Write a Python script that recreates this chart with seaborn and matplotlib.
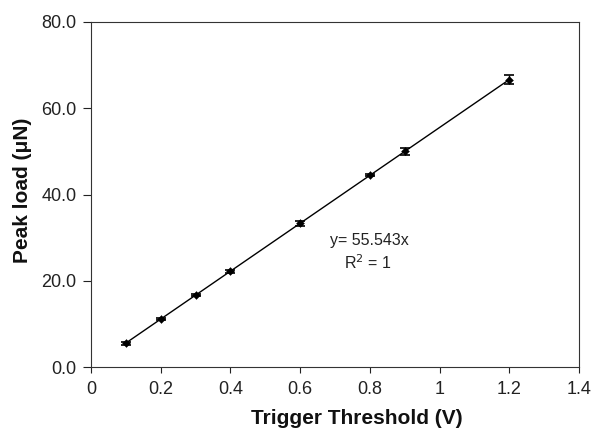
import matplotlib
matplotlib.use("Agg")
import matplotlib.pyplot as plt
import seaborn as sns
import numpy as np
import pandas as pd

# Data
trigger_v = [0.1, 0.2, 0.3, 0.4, 0.6, 0.8, 0.9, 1.2]
peak_load = [5.5, 11.1, 16.7, 22.2, 33.3, 44.5, 50.0, 66.6]
load_err = [0.3, 0.3, 0.3, 0.3, 0.5, 0.3, 0.8, 1.0]
slope = 55.543
x_ticks = [0, 0.2, 0.4, 0.6, 0.8, 1, 1.2, 1.4]
x_ticklabels = ["0", "0.2", "0.4", "0.6", "0.8", "1", "1.2", "1.4"]
y_ticks = [0, 20, 40, 60, 80]
y_ticklabels = ["0.0", "20.0", "40.0", "60.0", "80.0"]

sns.set_style("ticks")
plt.rcParams['font.family'] = ['Liberation Sans', 'DejaVu Sans']

fig = plt.figure(figsize=(5.96, 4.28), dpi=100)
ax = fig.add_axes([0.1527, 0.1425, 0.8188, 0.8061])

df = pd.DataFrame({"x": trigger_v, "y": peak_load})
fit_x = [min(trigger_v), max(trigger_v)]
fit_df = pd.DataFrame({"x": fit_x, "y": [slope * v for v in fit_x]})

sns.lineplot(data=fit_df, x="x", y="y", ax=ax, color="black", linewidth=1.0)
ax.errorbar(trigger_v, peak_load, yerr=load_err, fmt="none", ecolor="black",
            elinewidth=1.0, capsize=3.5, capthick=1.2)
sns.scatterplot(data=df, x="x", y="y", ax=ax, color="black", marker="D", s=16,
                edgecolor="black", zorder=3)

ax.set_xlim(0, 1.4)
ax.set_ylim(0, 80)
ax.set_xticks(x_ticks)
ax.set_xticklabels(x_ticklabels)
ax.set_yticks(y_ticks)
ax.set_yticklabels(y_ticklabels)
ax.tick_params(axis="both", direction="out", width=0.8, labelsize=13,
               colors="#222222")
ax.tick_params(axis="y", length=5.5, pad=5)
ax.tick_params(axis="x", length=4, pad=6)
for s in ax.spines.values():
    s.set_linewidth(0.8)
    s.set_color("#333333")

ax.set_xlabel("Trigger Threshold (V)", fontsize=15, fontweight="bold",
              color="#111111")
ax.xaxis.label.set_va("center")
ax.xaxis.set_label_coords(0.545, -0.148)
ax.set_ylabel("Peak load (\u03bcN)", fontsize=15, fontweight="bold",
              color="#111111")
ax.yaxis.label.set_va("center")
ax.yaxis.set_label_coords(-0.141, 0.513)

ax.text(0.80, 29.4, "y= 55.543x", ha="center", va="center", fontsize=11.5,
        color="#222222")
ax.text(0.795, 24.1, "R$^2$ = 1", ha="center", va="center", fontsize=11.5,
        color="#222222")

fig.savefig("out.png", dpi=100)
